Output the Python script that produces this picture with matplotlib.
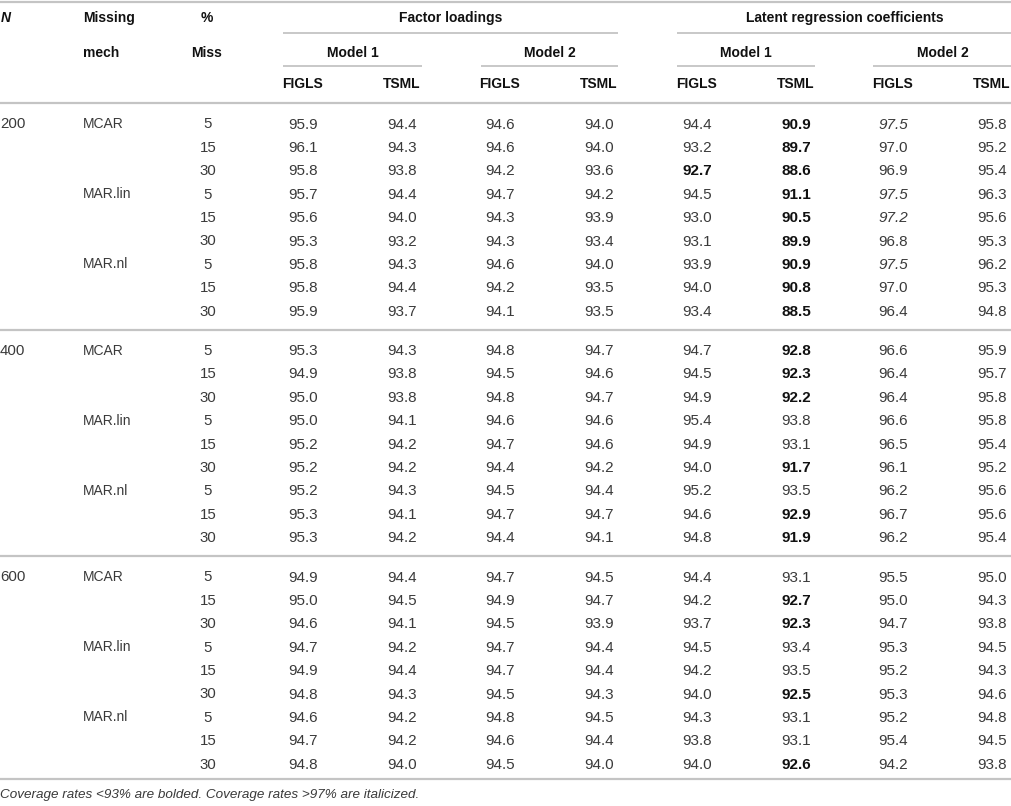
import numpy as np
import matplotlib.pyplot as plt

plt.rcParams['font.family'] = ['Liberation Sans', 'DejaVu Sans']

# table content
n_values = ['200', '400', '600']
mechs = ['MCAR', 'MAR.lin', 'MAR.nl']
miss_pct = ['5', '15', '30']
groups = ['Factor loadings', 'Latent regression coefficients']
models = ['Model 1', 'Model 2']
methods = ['FIGLS', 'TSML']

# coverage rates, 27 rows each (N x mech x %miss)
fl_m1_figls = [95.9, 96.1, 95.8, 95.7, 95.6, 95.3, 95.8, 95.8, 95.9,
               95.3, 94.9, 95.0, 95.0, 95.2, 95.2, 95.2, 95.3, 95.3,
               94.9, 95.0, 94.6, 94.7, 94.9, 94.8, 94.6, 94.7, 94.8]
fl_m1_tsml = [94.4, 94.3, 93.8, 94.4, 94.0, 93.2, 94.3, 94.4, 93.7,
              94.3, 93.8, 93.8, 94.1, 94.2, 94.2, 94.3, 94.1, 94.2,
              94.4, 94.5, 94.1, 94.2, 94.4, 94.3, 94.2, 94.2, 94.0]
fl_m2_figls = [94.6, 94.6, 94.2, 94.7, 94.3, 94.3, 94.6, 94.2, 94.1,
               94.8, 94.5, 94.8, 94.6, 94.7, 94.4, 94.5, 94.7, 94.4,
               94.7, 94.9, 94.5, 94.7, 94.7, 94.5, 94.8, 94.6, 94.5]
fl_m2_tsml = [94.0, 94.0, 93.6, 94.2, 93.9, 93.4, 94.0, 93.5, 93.5,
              94.7, 94.6, 94.7, 94.6, 94.6, 94.2, 94.4, 94.7, 94.1,
              94.5, 94.7, 93.9, 94.4, 94.4, 94.3, 94.5, 94.4, 94.0]
lr_m1_figls = [94.4, 93.2, 92.7, 94.5, 93.0, 93.1, 93.9, 94.0, 93.4,
               94.7, 94.5, 94.9, 95.4, 94.9, 94.0, 95.2, 94.6, 94.8,
               94.4, 94.2, 93.7, 94.5, 94.2, 94.0, 94.3, 93.8, 94.0]
lr_m1_tsml = [90.9, 89.7, 88.6, 91.1, 90.5, 89.9, 90.9, 90.8, 88.5,
              92.8, 92.3, 92.2, 93.8, 93.1, 91.7, 93.5, 92.9, 91.9,
              93.1, 92.7, 92.3, 93.4, 93.5, 92.5, 93.1, 93.1, 92.6]
lr_m2_figls = [97.5, 97.0, 96.9, 97.5, 97.2, 96.8, 97.5, 97.0, 96.4,
               96.6, 96.4, 96.4, 96.6, 96.5, 96.1, 96.2, 96.7, 96.2,
               95.5, 95.0, 94.7, 95.3, 95.2, 95.3, 95.2, 95.4, 94.2]
lr_m2_tsml = [95.8, 95.2, 95.4, 96.3, 95.6, 95.3, 96.2, 95.3, 94.8,
              95.9, 95.7, 95.8, 95.8, 95.4, 95.2, 95.6, 95.6, 95.4,
              95.0, 94.3, 93.8, 94.5, 94.3, 94.6, 94.8, 94.5, 93.8]

footnote = 'Coverage rates <93% are bolded. Coverage rates >97% are italicized.'

columns = [fl_m1_figls, fl_m1_tsml, fl_m2_figls, fl_m2_tsml,
           lr_m1_figls, lr_m1_tsml, lr_m2_figls, lr_m2_tsml]

W, H = 1012, 806
fig = plt.figure(figsize=(W / 100, H / 100), dpi=100)
ax = fig.add_axes([0, 0, 1, 1])
ax.set_xlim(0, W)
ax.set_ylim(H, 0)
ax.axis('off')

line_c = '#c4c4c4'
txt_c = '#3a3a3a'
head_c = '#111111'
fs_head = 10
fs_lab = 10
fs_num = 11

col_x = [303, 402, 500, 599, 697, 796, 893, 992]
model_spans = [(283, 422), (481, 618), (677, 815), (873, 1012)]
group_spans = [(283, 618), (677, 1012)]

def put(x, y, s, ha='left', fs=fs_lab, **kw):
    # y is the visual centre of the cap height
    ax.text(x, y + fs * 1.389 * 0.36, s, ha=ha, va='baseline', fontsize=fs, **kw)

# header
ax.hlines(2, 0, W, color=line_c, lw=1.6)
put(1, 17, 'N', fs=fs_head, fontweight='bold', fontstyle='italic', color=head_c)
put(83, 17, 'Missing', fs=fs_head, fontweight='bold', color=head_c)
put(83, 52, 'mech', fs=fs_head, fontweight='bold', color=head_c)
put(207, 17, '%', ha='center', fs=fs_head, fontweight='bold', color=head_c)
put(207, 52, 'Miss', ha='center', fs=fs_head, fontweight='bold', color=head_c)
for g, (x0, x1) in zip(groups, group_spans):
    put((x0 + x1) / 2, 17, g, ha='center', fs=fs_head, fontweight='bold', color=head_c)
    ax.hlines(33, x0, x1, color=line_c, lw=1.3)
for i, (x0, x1) in enumerate(model_spans):
    put((x0 + x1) / 2, 52, models[i % 2], ha='center', fs=fs_head, fontweight='bold', color=head_c)
    ax.hlines(66, x0, x1, color=line_c, lw=1.3)
for i, x in enumerate(col_x):
    put(x, 83, methods[i % 2], ha='center', fs=fs_head, fontweight='bold', color=head_c)
ax.hlines(103, 0, W, color=line_c, lw=1.6)

# body
row_h = 23.4
block_h = 226.5
sep_gap = [19.5, 19.5, 15.5]
for b, n in enumerate(n_values):
    y0 = 123 + b * block_h
    put(0, y0, n, fs=10.8, color=txt_c)
    for m, mech in enumerate(mechs):
        put(83, y0 + m * 3 * row_h, mech, color=txt_c)
        for p, pct in enumerate(miss_pct):
            r = b * 9 + m * 3 + p
            y = y0 + (m * 3 + p) * row_h
            put(208, y, pct, ha='center', fs=10.8, color=txt_c)
            for c, x in enumerate(col_x):
                v = columns[c][r]
                if v < 93:
                    put(x, y, f'{v:.1f}', ha='center', fs=fs_num, fontweight='bold', color=head_c)
                elif v > 97:
                    put(x, y, f'{v:.1f}', ha='center', fs=fs_num, fontstyle='italic', color=txt_c)
                else:
                    put(x, y, f'{v:.1f}', ha='center', fs=fs_num, color=txt_c)
    ax.hlines(y0 + 8 * row_h + sep_gap[b], 0, W, color=line_c, lw=1.6)

put(0, 793, footnote, fs=9.7, fontstyle='italic', color=txt_c)

fig.savefig('out.png', dpi=100)
